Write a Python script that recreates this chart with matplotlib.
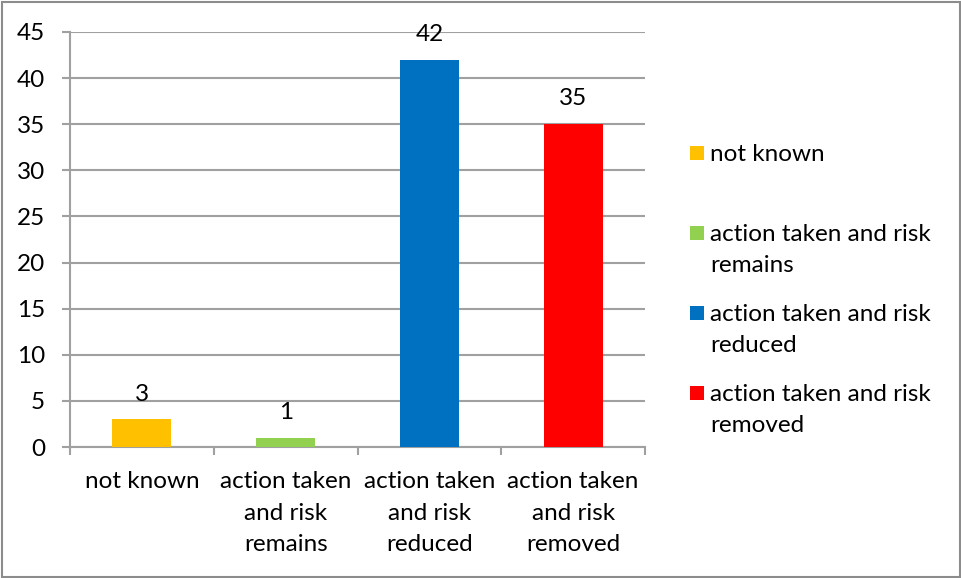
import matplotlib
matplotlib.use("Agg")
import matplotlib.pyplot as plt
from matplotlib.patches import Rectangle
import numpy as np

categories = ["not known", "action taken\nand risk\nremains", "action taken\nand risk\nreduced", "action taken\nand risk\nremoved"]
legend_labels = ["not known", "action taken and risk\nremains", "action taken and risk\nreduced", "action taken and risk\nremoved"]
values = [3, 1, 42, 35]
colors = ["#FFC000", "#92D050", "#0070C0", "#FF0000"]
yticks = [0, 5, 10, 15, 20, 25, 30, 35, 40, 45]

plt.rcParams['font.family'] = ['Lato', 'DejaVu Sans']
FS = 17.5
LS = 1.61
GRID = "#A0A0A0"

W, H = 961, 578
fig = plt.figure(figsize=(W / 100, H / 100), dpi=100)
ax = fig.add_axes([70 / W, 1 - 447 / H, (645 - 70) / W, (447 - 32) / H])

x = np.arange(len(values))
bars = ax.bar(x, values, width=0.41, color=colors, zorder=3)
ax.set_xlim(-0.5, len(values) - 0.5)
ax.set_ylim(0, 45)
ax.set_yticks(yticks)
ax.set_yticklabels([str(t) for t in yticks], fontsize=FS)
ax.yaxis.grid(True, color=GRID, linewidth=1.5, zorder=0)
ax.set_axisbelow(True)

# x ticks at category boundaries, labels at centers
ax.set_xticks(np.arange(len(values) + 1) - 0.5)
ax.set_xticklabels([])
ax.set_xticks(x, minor=True)
ax.set_xticklabels(categories, minor=True, fontsize=FS, linespacing=LS, va='top')
ax.tick_params(axis='x', which='minor', length=0, pad=17.5)
ax.tick_params(axis='x', which='major', length=6, width=1.5, color=GRID, direction='out')
ax.tick_params(axis='y', length=6, width=1.5, color=GRID, direction='out', pad=12)

for s in ['top', 'right']:
    ax.spines[s].set_visible(False)
for s in ['left', 'bottom']:
    ax.spines[s].set_color(GRID)
    ax.spines[s].set_linewidth(1.5)

for xi, v in zip(x, values):
    ax.annotate(str(v), (xi, v), xytext=(0, 13.5), textcoords='offset points',
                ha='center', va='baseline', fontsize=FS)

# legend drawn manually
leg_y_first = [153, 233, 313, 393]
for lab, c, yy in zip(legend_labels, colors, leg_y_first):
    fig.patches.append(Rectangle((690 / W, 1 - (yy + 7) / H), 14 / W, 14 / H,
                                 transform=fig.transFigure, facecolor=c, edgecolor='none'))
    fig.text(710 / W, 1 - (yy - 9) / H, lab, fontsize=FS, va='top', ha='left', linespacing=LS)

# outer border
fig.patches.append(Rectangle((1.5 / W, 1.5 / H), (W - 3) / W, (H - 3) / H,
                             transform=fig.transFigure, facecolor='none', edgecolor='#8C8C8C', linewidth=1.5))

fig.savefig("out.png", dpi=100)
